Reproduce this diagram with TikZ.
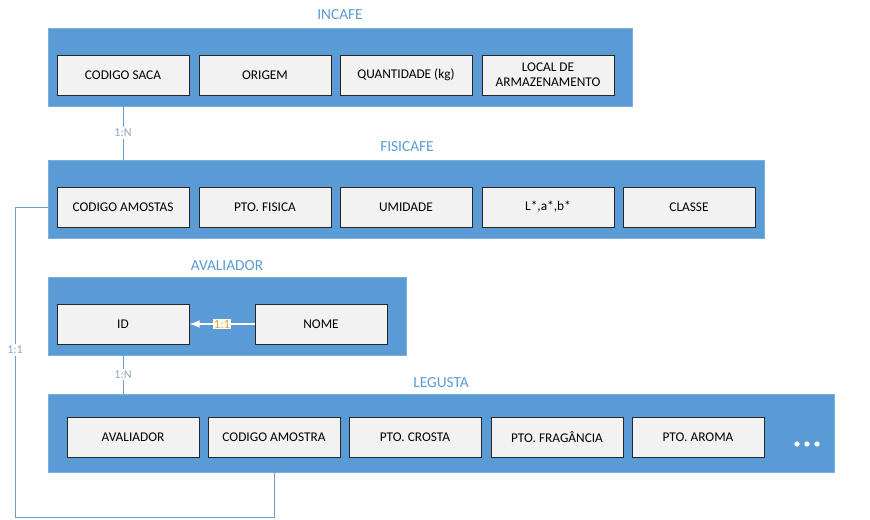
\documentclass[tikz,border=0pt]{standalone}
\usepackage{fontspec}
\setmainfont{Carlito}
\usepackage{tikz}
\usetikzlibrary{positioning}

\definecolor{azul}{HTML}{5B9BD5}
\definecolor{cinza}{HTML}{F2F2F2}
\definecolor{linha}{HTML}{6F9DC9}
\definecolor{rotulo}{HTML}{8AA6C0}
\definecolor{laranja}{HTML}{F0A21E}

\tikzset{
  tabela/.style={rectangle, fill=azul, draw=azul!80!white, line width=0.4pt, inner sep=0pt},
  campo/.style={rectangle, fill=cinza, draw=black!85, line width=0.75pt, minimum width=99pt, minimum height=30pt, inner sep=1pt, align=center, font=\fontsize{10}{11.5}\selectfont},
  titulo/.style={text=azul, font=\fontsize{11.5}{13}\selectfont},
  conector/.style={draw=linha, line width=0.6pt},
  card/.style={fill=white, text=rotulo, inner sep=1.5pt, font=\fontsize{9}{10}\selectfont},
}

\begin{document}
\begin{tikzpicture}[x=0.75pt, y=-0.75pt]
            \useasboundingbox (0,0) rectangle (870,519);
            % INCAFE
            \node[titulo] (tincafe) at (340,15) {INCAFE};
            \node[tabela, minimum width=438pt, minimum height=58.5pt] (incafe) at (340,67) {};
            \node[campo] (ic1) at (123,75) {CODIGO SACA};
            \node[campo] (ic2) at (265,75) {ORIGEM};
            \node[campo] (ic3) at (406,75) {QUANTIDADE (kg)};
            \node[campo] (ic4) at (548,75) {LOCAL DE\\ARMAZENAMENTO};
            % FISICAFE
            \node[titulo] (tfisicafe) at (407,147) {FISICAFE};
            \node[tabela, minimum width=537pt, minimum height=58.5pt] (fisicafe) at (406,199) {};
            \node[campo] (fc1) at (123,207) {CODIGO AMOSTAS};
            \node[campo] (fc2) at (265,207) {PTO. FISICA};
            \node[campo] (fc3) at (406,207) {UMIDADE};
            \node[campo] (fc4) at (548,207) {L*,a*,b*};
            \node[campo] (fc5) at (689,207) {CLASSE};
            % AVALIADOR
            \node[titulo] (tavaliador) at (227,266) {AVALIADOR};
            \node[tabela, minimum width=268.5pt, minimum height=58.5pt] (avaliador) at (227,316) {};
            \node[campo] (av1) at (123,324) {ID};
            \node[campo] (av2) at (321,324) {NOME};
            % LEGUSTA
            \node[titulo] (tlegusta) at (441,383) {LEGUSTA};
            \node[tabela, minimum width=589.5pt, minimum height=58.5pt] (legusta) at (441,433) {};
            \node[campo] (lg1) at (133,437) {AVALIADOR};
            \node[campo] (lg2) at (274,437) {CODIGO AMOSTRA};
            \node[campo] (lg3) at (415,437) {PTO. CROSTA};
            \node[campo] (lg4) at (557,437) {PTO. FRAGÂNCIA};
            \node[campo] (lg5) at (698,437) {PTO. AROMA};
            \foreach \x in {797,807,817}
                \fill[white] (\x,444) circle (2pt);

            % ligacoes
            \draw[conector] (incafe.south -| ic1) -- node[card]{1:N} (fisicafe.north -| ic1);
            \draw[conector] (avaliador.south -| av1) -- node[card]{1:N} (legusta.north -| av1);
            \draw[white, line width=1.6pt, -latex] (av2.west) -- node[card, text=laranja, inner sep=1pt, font=\fontsize{9.5}{10}\selectfont]{1:1} (av1.east);
            \coordinate (c1) at (15,207);
            \coordinate (c2) at (15,517);
            \draw[conector] (fisicafe.west |- fc1) -- (c1) -- node[card, pos=0.46]{1:1} (c2) -- (c2 -| lg2) -- (legusta.south -| lg2);
        \end{tikzpicture}
\end{document}
